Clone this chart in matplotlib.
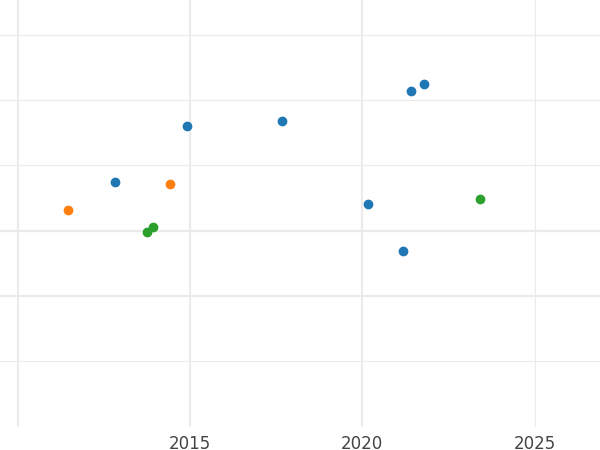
import matplotlib
matplotlib.use("Agg")
import matplotlib.pyplot as plt

blue_x = [2012.82, 2014.91, 2017.67, 2020.17, 2021.19, 2021.42, 2021.80]
blue_y = [0.74, 1.60, 1.69, 0.40, -0.31, 2.14, 2.25]
orange_x = [2011.45, 2014.42]
orange_y = [0.31, 0.71]
green_x = [2013.75, 2013.92, 2023.43]
green_y = [-0.03, 0.05, 0.49]
xticks = [2015, 2020, 2025]

fig = plt.figure(figsize=(6, 4.5), dpi=100)
ax = fig.add_axes([0, 23/450, 1, 1 - 23/450 + 0.001])
ax.set_xlim(2009.48, 2026.9)
ax.set_ylim(-3.02, 3.55)
for x in [2010, 2015, 2020]:
    ax.axvline(x, color="#ebebeb", lw=1.6, zorder=0)
ax.axvline(2025, color="#ebebeb", lw=0.8, zorder=0)
for y in [3, 2, 1, -2]:
    ax.axhline(y, color="#ebebeb", lw=0.8, zorder=0)
for y in [0, -1]:
    ax.axhline(y, color="#ebebeb", lw=1.6, zorder=0)
ax.scatter(blue_x, blue_y, s=36, color="#1f77b4", zorder=3)
ax.scatter(orange_x, orange_y, s=36, color="#ff7f0e", zorder=3)
ax.scatter(green_x, green_y, s=36, color="#2ca02c", zorder=3)
ax.set_xticks(xticks)
ax.set_xticklabels([str(t) for t in xticks], fontsize=12, color="#444444")
ax.set_yticks([])
ax.tick_params(axis="x", length=0, pad=6)
for s in ax.spines.values():
    s.set_visible(False)
fig.savefig("out.png", dpi=100)
